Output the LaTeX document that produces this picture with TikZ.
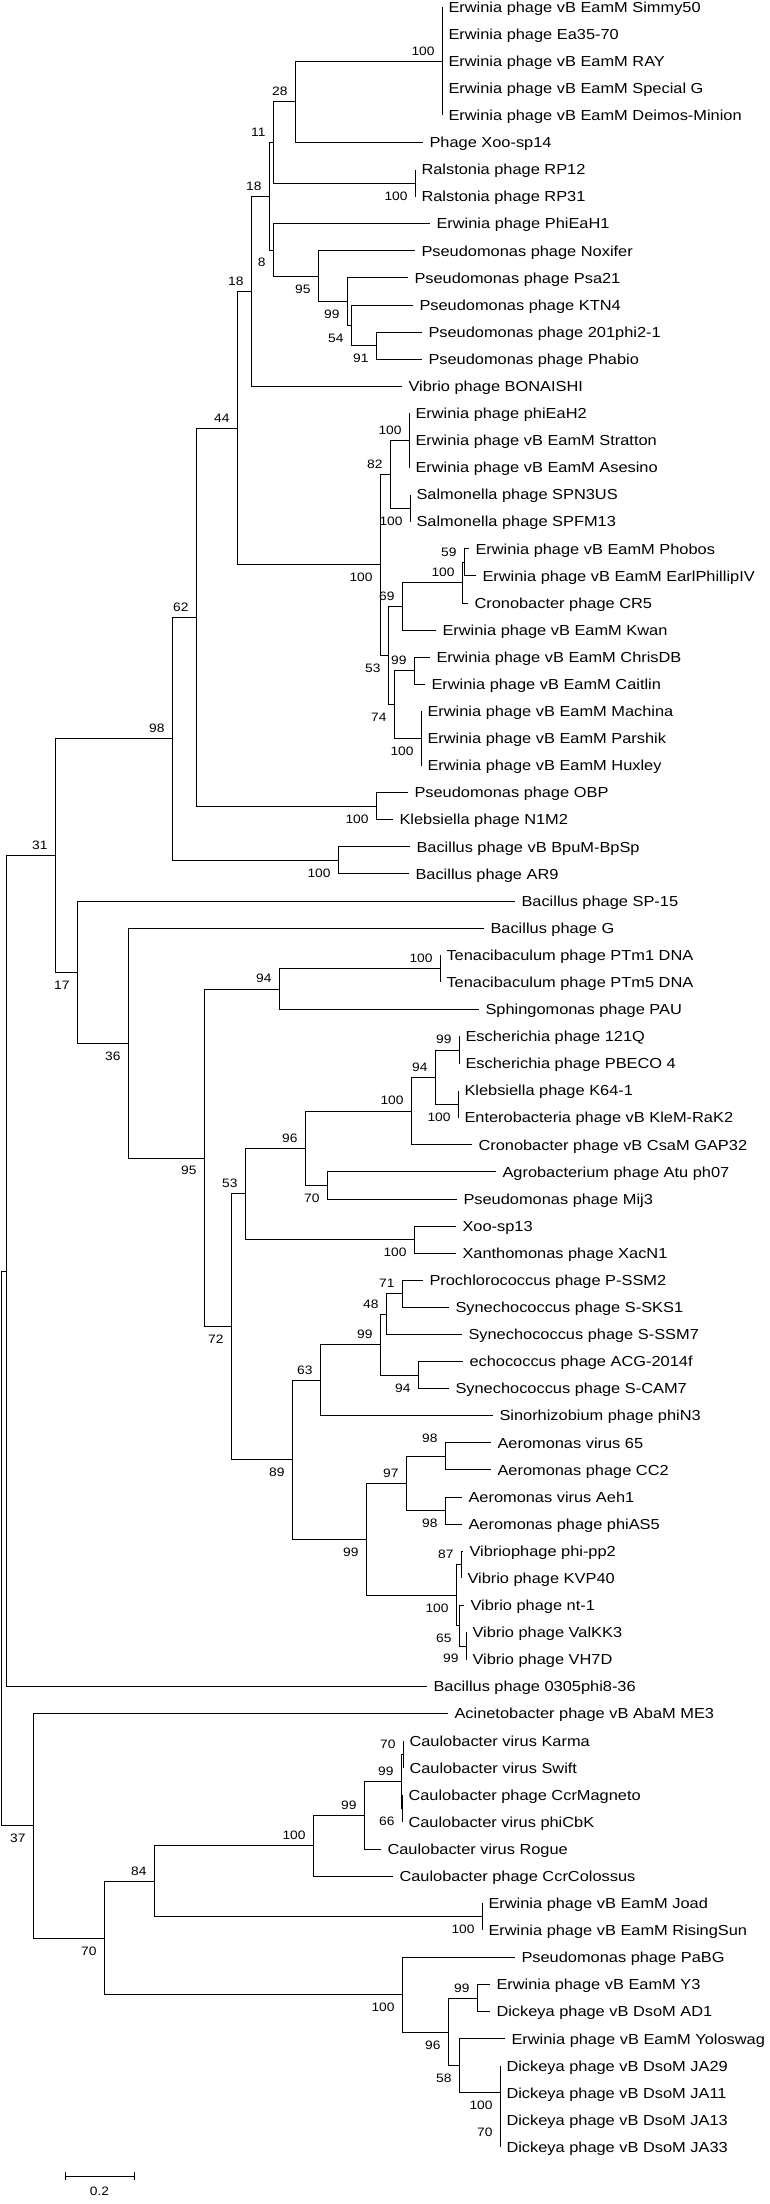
\documentclass[tikz,border=0pt]{standalone}
\usepackage{fontspec}
\newfontfamily\treefont{Liberation Sans}[FakeStretch=1.13]
\usetikzlibrary{positioning}

\begin{document}
\begin{tikzpicture}[x=1pt,y=-1pt,line width=1pt,
  leaf/.style={anchor=west,inner xsep=6pt,inner ysep=0pt,text height=10.4pt,text depth=0pt,font=\treefont\fontsize{14.5}{16}\selectfont},
  bs/.style={inner sep=0pt,text height=8.7pt,text depth=0pt,font=\treefont\fontsize{12.2}{14}\selectfont},
  bsup/.style={bs,above left=5.6pt and 7pt of #1},
  bsdn/.style={bs,below left=7.7pt and 7pt of #1}]
\path[use as bounding box,fill=white] (0,0) rectangle (770,2204);
% leaves
\node[leaf] (l1) at (442,7) {Erwinia phage vB EamM Simmy50};
\node[leaf] (l2) at (442,34.1) {Erwinia phage Ea35-70};
\node[leaf] (l3) at (442,61.2) {Erwinia phage vB EamM RAY};
\node[leaf] (l4) at (442,88.3) {Erwinia phage vB EamM Special G};
\node[leaf] (l5) at (442,115.4) {Erwinia phage vB EamM Deimos-Minion};
\node[leaf] (l6) at (423,142.5) {Phage Xoo-sp14};
\node[leaf] (l7) at (415,169.5) {Ralstonia phage RP12};
\node[leaf] (l8) at (415,196.6) {Ralstonia phage RP31};
\node[leaf] (l9) at (430,223.7) {Erwinia phage PhiEaH1};
\node[leaf] (l10) at (415,250.8) {Pseudomonas phage Noxifer};
\node[leaf] (l11) at (408,277.9) {Pseudomonas phage Psa21};
\node[leaf] (l12) at (413,305.0) {Pseudomonas phage KTN4};
\node[leaf] (l13) at (422,332.1) {Pseudomonas phage 201phi2-1};
\node[leaf] (l14) at (422,359.2) {Pseudomonas phage Phabio};
\node[leaf] (l15) at (402,386.3) {Vibrio phage BONAISHI};
\node[leaf] (l16) at (409,413.4) {Erwinia phage phiEaH2};
\node[leaf] (l17) at (409,440.4) {Erwinia phage vB EamM Stratton};
\node[leaf] (l18) at (409,467.5) {Erwinia phage vB EamM Asesino};
\node[leaf] (l19) at (410,494.6) {Salmonella phage SPN3US};
\node[leaf] (l20) at (410,521.7) {Salmonella phage SPFM13};
\node[leaf] (l21) at (469,548.8) {Erwinia phage vB EamM Phobos};
\node[leaf] (l22) at (476,575.9) {Erwinia phage vB EamM EarlPhillipIV};
\node[leaf] (l23) at (468,603.0) {Cronobacter phage CR5};
\node[leaf] (l24) at (436,630.1) {Erwinia phage vB EamM Kwan};
\node[leaf] (l25) at (430,657.2) {Erwinia phage vB EamM ChrisDB};
\node[leaf] (l26) at (425,684.3) {Erwinia phage vB EamM Caitlin};
\node[leaf] (l27) at (421,711.3) {Erwinia phage vB EamM Machina};
\node[leaf] (l28) at (421,738.4) {Erwinia phage vB EamM Parshik};
\node[leaf] (l29) at (421,765.5) {Erwinia phage vB EamM Huxley};
\node[leaf] (l30) at (408,792.6) {Pseudomonas phage OBP};
\node[leaf] (l31) at (393,819.7) {Klebsiella phage N1M2};
\node[leaf] (l32) at (410,846.8) {Bacillus phage vB BpuM-BpSp};
\node[leaf] (l33) at (409,873.9) {Bacillus phage AR9};
\node[leaf] (l34) at (515,901.0) {Bacillus phage SP-15};
\node[leaf] (l35) at (484,928.1) {Bacillus phage G};
\node[leaf] (l36) at (440,955.2) {Tenacibaculum phage PTm1 DNA};
\node[leaf] (l37) at (440,982.2) {Tenacibaculum phage PTm5 DNA};
\node[leaf] (l38) at (479,1009.3) {Sphingomonas phage PAU};
\node[leaf] (l39) at (459,1036.4) {Escherichia phage 121Q};
\node[leaf] (l40) at (459,1063.5) {Escherichia phage PBECO 4};
\node[leaf] (l41) at (458,1090.6) {Klebsiella phage K64-1};
\node[leaf] (l42) at (458,1117.7) {Enterobacteria phage vB KleM-RaK2};
\node[leaf] (l43) at (472,1144.8) {Cronobacter phage vB CsaM GAP32};
\node[leaf] (l44) at (496,1171.9) {Agrobacterium phage Atu ph07};
\node[leaf] (l45) at (457,1199.0) {Pseudomonas phage Mij3};
\node[leaf] (l46) at (456,1226.1) {Xoo-sp13};
\node[leaf] (l47) at (456,1253.1) {Xanthomonas phage XacN1};
\node[leaf] (l48) at (423,1280.2) {Prochlorococcus phage P-SSM2};
\node[leaf] (l49) at (449,1307.3) {Synechococcus phage S-SKS1};
\node[leaf] (l50) at (462,1334.4) {Synechococcus phage S-SSM7};
\node[leaf] (l51) at (463,1361.5) {echococcus phage ACG-2014f};
\node[leaf] (l52) at (449,1388.6) {Synechococcus phage S-CAM7};
\node[leaf] (l53) at (493,1415.7) {Sinorhizobium phage phiN3};
\node[leaf] (l54) at (491,1442.8) {Aeromonas virus 65};
\node[leaf] (l55) at (491,1469.9) {Aeromonas phage CC2};
\node[leaf] (l56) at (462,1497.0) {Aeromonas virus Aeh1};
\node[leaf] (l57) at (462,1524.0) {Aeromonas phage phiAS5};
\node[leaf] (l58) at (463,1551.1) {Vibriophage phi-pp2};
\node[leaf] (l59) at (461,1578.2) {Vibrio phage KVP40};
\node[leaf] (l60) at (464,1605.3) {Vibrio phage nt-1};
\node[leaf] (l61) at (466,1632.4) {Vibrio phage ValKK3};
\node[leaf] (l62) at (466,1659.5) {Vibrio phage VH7D};
\node[leaf] (l63) at (427,1686.6) {Bacillus phage 0305phi8-36};
\node[leaf] (l64) at (448,1713.7) {Acinetobacter phage vB AbaM ME3};
\node[leaf] (l65) at (403,1740.8) {Caulobacter virus Karma};
\node[leaf] (l66) at (403,1767.9) {Caulobacter virus Swift};
\node[leaf] (l67) at (402,1794.9) {Caulobacter phage CcrMagneto};
\node[leaf] (l68) at (402,1822.0) {Caulobacter virus phiCbK};
\node[leaf] (l69) at (381,1849.1) {Caulobacter virus Rogue};
\node[leaf] (l70) at (393,1876.2) {Caulobacter phage CcrColossus};
\node[leaf] (l71) at (482,1903.3) {Erwinia phage vB EamM Joad};
\node[leaf] (l72) at (482,1930.4) {Erwinia phage vB EamM RisingSun};
\node[leaf] (l73) at (515,1957.5) {Pseudomonas phage PaBG};
\node[leaf] (l74) at (490,1984.6) {Erwinia phage vB EamM Y3};
\node[leaf] (l75) at (490,2011.7) {Dickeya phage vB DsoM AD1};
\node[leaf] (l76) at (505,2038.8) {Erwinia phage vB EamM Yoloswag};
\node[leaf] (l77) at (500,2065.8) {Dickeya phage vB DsoM JA29};
\node[leaf] (l78) at (500,2092.9) {Dickeya phage vB DsoM JA11};
\node[leaf] (l79) at (500,2120.0) {Dickeya phage vB DsoM JA13};
\node[leaf] (l80) at (500,2147.1) {Dickeya phage vB DsoM JA33};
% inner nodes
\coordinate (nEa35) at (442,61.2);
\coordinate (nXoo14) at (295,101.9);
\coordinate (nRal) at (415,183.1);
\coordinate (nA11) at (273,142.5);
\coordinate (nPhab) at (376,345.6);
\coordinate (nKTN) at (351,325.3);
\coordinate (nPsa) at (347,301.6);
\coordinate (nNox) at (318,276.2);
\coordinate (nEaH1) at (273,250.0);
\coordinate (nA18) at (269,196.3);
\coordinate (nBon) at (251,291.3);
\coordinate (nStrat) at (409,440.5);
\coordinate (nSalm) at (410,508.2);
\coordinate (nSPN) at (390,474.3);
\coordinate (nPhob) at (464,562.4);
\coordinate (nCR5) at (462,582.7);
\coordinate (nKwan) at (402,606.4);
\coordinate (nChris) at (414,670.8);
\coordinate (nHux) at (421,738.4);
\coordinate (nCait) at (394,704.6);
\coordinate (nA53) at (388,655.5);
\coordinate (nJumbo) at (380,564.9);
\coordinate (nA44) at (237,428.1);
\coordinate (nOBP) at (376,806.2);
\coordinate (nA62) at (196,617.2);
\coordinate (nBpSp) at (338,860.4);
\coordinate (nA98) at (172,738.8);
\coordinate (nPTm) at (440,968.7);
\coordinate (nPAU) at (279,989.0);
\coordinate (nEsch) at (459,1050.0);
\coordinate (nRaK) at (458,1104.2);
\coordinate (nKleb) at (435,1077.1);
\coordinate (nGAP) at (411,1111.0);
\coordinate (nAgro) at (327,1185.5);
\coordinate (nB96) at (305,1148.2);
\coordinate (nXac) at (414,1239.6);
\coordinate (nB53) at (245,1193.9);
\coordinate (nSSM2) at (402,1293.8);
\coordinate (nSKS) at (386,1314.1);
\coordinate (nCAM) at (418,1375.1);
\coordinate (nSyn) at (380,1344.6);
\coordinate (nPhiN3) at (320,1380.2);
\coordinate (nAer65) at (445,1456.4);
\coordinate (nAeh1) at (445,1510.5);
\coordinate (nAero) at (406,1483.5);
\coordinate (nKVP) at (461,1564.7);
\coordinate (nVH7D) at (466,1646.0);
\coordinate (nNt1) at (459,1625.7);
\coordinate (nVib) at (456,1595.2);
\coordinate (nB99) at (366,1539.4);
\coordinate (nB89) at (292,1459.8);
\coordinate (nB72) at (231,1326.9);
\coordinate (nB95) at (204,1158.0);
\coordinate (nB36) at (128,1043.1);
\coordinate (nSP15) at (77,972.1);
\coordinate (nTop) at (55,855.5);
\coordinate (nUp) at (6,1271.0);
\coordinate (nKarma) at (403,1754.4);
\coordinate (nCbK) at (402,1808.5);
\coordinate (nCaul) at (401,1781.4);
\coordinate (nRogue) at (364,1815.3);
\coordinate (nColos) at (313,1845.7);
\coordinate (nJoad) at (482,1916.9);
\coordinate (nC84) at (154,1881.3);
\coordinate (nY3) at (477,1998.2);
\coordinate (nJA) at (500,2120.0);
\coordinate (nJA29) at (500,2092.9);
\coordinate (nYolo) at (459,2065.9);
\coordinate (nDick) at (448,2032.1);
\coordinate (nPaBG) at (402,1994.8);
\coordinate (nC70) at (104,1938.1);
\coordinate (nLow) at (33,1825.9);
\coordinate (nRoot) at (1.5,1548.5);
% branches
\draw (nEa35) |- (l1.west) (nEa35) |- (l5.west);
\draw (nXoo14) |- (nEa35) (nXoo14) |- (l6.west);
\draw (nRal) |- (l7.west) (nRal) |- (l8.west);
\draw (nA11) |- (nXoo14) (nA11) |- (nRal);
\draw (nPhab) |- (l13.west) (nPhab) |- (l14.west);
\draw (nKTN) |- (l12.west) (nKTN) |- (nPhab);
\draw (nPsa) |- (l11.west) (nPsa) |- (nKTN);
\draw (nNox) |- (l10.west) (nNox) |- (nPsa);
\draw (nEaH1) |- (l9.west) (nEaH1) |- (nNox);
\draw (nA18) |- (nA11) (nA18) |- (nEaH1);
\draw (nBon) |- (nA18) (nBon) |- (l15.west);
\draw (nStrat) |- (l16.west) (nStrat) |- (l18.west);
\draw (nSalm) |- (l19.west) (nSalm) |- (l20.west);
\draw (nSPN) |- (nStrat) (nSPN) |- (nSalm);
\draw (nPhob) |- (l21.west) (nPhob) |- (l22.west);
\draw (nCR5) |- (nPhob) (nCR5) |- (l23.west);
\draw (nKwan) |- (nCR5) (nKwan) |- (l24.west);
\draw (nChris) |- (l25.west) (nChris) |- (l26.west);
\draw (nHux) |- (l27.west) (nHux) |- (l29.west);
\draw (nCait) |- (nChris) (nCait) |- (nHux);
\draw (nA53) |- (nKwan) (nA53) |- (nCait);
\draw (nJumbo) |- (nSPN) (nJumbo) |- (nA53);
\draw (nA44) |- (nBon) (nA44) |- (nJumbo);
\draw (nOBP) |- (l30.west) (nOBP) |- (l31.west);
\draw (nA62) |- (nA44) (nA62) |- (nOBP);
\draw (nBpSp) |- (l32.west) (nBpSp) |- (l33.west);
\draw (nA98) |- (nA62) (nA98) |- (nBpSp);
\draw (nPTm) |- (l36.west) (nPTm) |- (l37.west);
\draw (nPAU) |- (nPTm) (nPAU) |- (l38.west);
\draw (nEsch) |- (l39.west) (nEsch) |- (l40.west);
\draw (nRaK) |- (l41.west) (nRaK) |- (l42.west);
\draw (nKleb) |- (nEsch) (nKleb) |- (nRaK);
\draw (nGAP) |- (nKleb) (nGAP) |- (l43.west);
\draw (nAgro) |- (l44.west) (nAgro) |- (l45.west);
\draw (nB96) |- (nGAP) (nB96) |- (nAgro);
\draw (nXac) |- (l46.west) (nXac) |- (l47.west);
\draw (nB53) |- (nB96) (nB53) |- (nXac);
\draw (nSSM2) |- (l48.west) (nSSM2) |- (l49.west);
\draw (nSKS) |- (nSSM2) (nSKS) |- (l50.west);
\draw (nCAM) |- (l51.west) (nCAM) |- (l52.west);
\draw (nSyn) |- (nSKS) (nSyn) |- (nCAM);
\draw (nPhiN3) |- (nSyn) (nPhiN3) |- (l53.west);
\draw (nAer65) |- (l54.west) (nAer65) |- (l55.west);
\draw (nAeh1) |- (l56.west) (nAeh1) |- (l57.west);
\draw (nAero) |- (nAer65) (nAero) |- (nAeh1);
\draw (nKVP) |- (l58.west) (nKVP) |- (l59.west);
\draw (nVH7D) |- (l61.west) (nVH7D) |- (l62.west);
\draw (nNt1) |- (l60.west) (nNt1) |- (nVH7D);
\draw (nVib) |- (nKVP) (nVib) |- (nNt1);
\draw (nB99) |- (nAero) (nB99) |- (nVib);
\draw (nB89) |- (nPhiN3) (nB89) |- (nB99);
\draw (nB72) |- (nB53) (nB72) |- (nB89);
\draw (nB95) |- (nPAU) (nB95) |- (nB72);
\draw (nB36) |- (l35.west) (nB36) |- (nB95);
\draw (nSP15) |- (l34.west) (nSP15) |- (nB36);
\draw (nTop) |- (nA98) (nTop) |- (nSP15);
\draw (nUp) |- (nTop) (nUp) |- (l63.west);
\draw (nKarma) |- (l65.west) (nKarma) |- (l66.west);
\draw (nCbK) |- (l67.west) (nCbK) |- (l68.west);
\draw (nCaul) |- (nKarma) (nCaul) |- (nCbK);
\draw (nRogue) |- (nCaul) (nRogue) |- (l69.west);
\draw (nColos) |- (nRogue) (nColos) |- (l70.west);
\draw (nJoad) |- (l71.west) (nJoad) |- (l72.west);
\draw (nC84) |- (nColos) (nC84) |- (nJoad);
\draw (nY3) |- (l74.west) (nY3) |- (l75.west);
\draw (nJA) |- (l78.west) (nJA) |- (l80.west);
\draw (nJA29) |- (l77.west) (nJA29) |- (nJA);
\draw (nYolo) |- (l76.west) (nYolo) |- (nJA29);
\draw (nDick) |- (nY3) (nDick) |- (nYolo);
\draw (nPaBG) |- (l73.west) (nPaBG) |- (nDick);
\draw (nC70) |- (nC84) (nC70) |- (nPaBG);
\draw (nLow) |- (l64.west) (nLow) |- (nC70);
\draw (nRoot) |- (nUp) (nRoot) |- (nLow);
% bootstrap values
\node[bsup=nEa35] (bEa35) {100};
\node[bsup=nXoo14] (bXoo14) {28};
\node[bsup=nA11] (bA11) {11};
\node[bsdn=nRal] (bRal) {100};
\node[bsup=nA18] (bA18) {18};
\node[bsdn=nEaH1] (bEaH1) {8};
\node[bsdn=nNox] (bNox) {95};
\node[bsdn=nPsa] (bPsa) {99};
\node[bsdn=nKTN] (bKTN) {54};
\node[bsdn=nPhab] (bPhab) {91};
\node[bsup=nBon] (bBon) {18};
\node[bsup=nA44] (bA44) {44};
\node[bsup=nStrat] (bStrat) {100};
\node[bsup=nSPN] (bSPN) {82};
\node[bsdn=nSalm] (bSalm) {100};
\node[bsdn=nJumbo] (bJumbo) {100};
\node[bsup=nPhob] (bPhob) {59};
\node[bsup=nCR5] (bCR5) {100};
\node[bsup=nKwan] (bKwan) {69};
\node[bsdn=nA53] (bA53) {53};
\node[bsup=nChris] (bChris) {99};
\node[bsdn=nCait] (bCait) {74};
\node[bsdn=nHux] (bHux) {100};
\node[bsup=nA62] (bA62) {62};
\node[bsdn=nOBP] (bOBP) {100};
\node[bsup=nA98] (bA98) {98};
\node[bsdn=nBpSp] (bBpSp) {100};
\node[bsup=nTop] (bTop) {31};
\node[bsdn=nSP15] (bSP15) {17};
\node[bsdn=nB36] (bB36) {36};
\node[bsdn=nB95] (bB95) {95};
\node[bsup=nPAU] (bPAU) {94};
\node[bsup=nPTm] (bPTm) {100};
\node[bsdn=nB72] (bB72) {72};
\node[bsup=nB53] (bB53) {53};
\node[bsdn=nXac] (bXac) {100};
\node[bsup=nB96] (bB96) {96};
\node[bsup=nGAP] (bGAP) {100};
\node[bsup=nKleb] (bKleb) {94};
\node[bsup=nEsch] (bEsch) {99};
\node[bsdn=nRaK] (bRaK) {100};
\node[bsdn=nAgro] (bAgro) {70};
\node[bsdn=nB89] (bB89) {89};
\node[bsup=nPhiN3] (bPhiN3) {63};
\node[bsup=nSyn] (bSyn) {99};
\node[bsup=nSKS] (bSKS) {48};
\node[bsup=nSSM2] (bSSM2) {71};
\node[bsdn=nCAM] (bCAM) {94};
\node[bsdn=nB99] (bB99) {99};
\node[bsup=nAero] (bAero) {97};
\node[bs,above left=13.6pt and 7pt of nAer65] (bAer65) {98};
\node[bsdn=nAeh1] (bAeh1) {98};
\node[bsup=nKVP] (bKVP) {87};
\node[bsdn=nVib] (bVib) {100};
\node[bsdn=nNt1] (bNt1) {65};
\node[bsdn=nVH7D] (bVH7D) {99};
\node[bsdn=nLow] (bLow) {37};
\node[bsdn=nC70] (bC70) {70};
\node[bsup=nC84] (bC84) {84};
\node[bsup=nColos] (bColos) {100};
\node[bsup=nRogue] (bRogue) {99};
\node[bsup=nCaul] (bCaul) {99};
\node[bsup=nKarma] (bKarma) {70};
\node[bsdn=nCbK] (bCbK) {66};
\node[bsdn=nJoad] (bJoad) {100};
\node[bsdn=nPaBG] (bPaBG) {100};
\node[bsup=nY3] (bY3) {99};
\node[bsdn=nDick] (bDick) {96};
\node[bsdn=nYolo] (bYolo) {58};
\node[bsdn=nJA29] (bJA29) {100};
\node[bsdn=nJA] (bJA) {70};
% scale bar
\coordinate (sbL) at (65,2176);
\coordinate (sbR) at (134,2176);
\draw (sbL) -- (sbR);
\draw ([yshift=4pt]sbL) -- ([yshift=-4pt]sbL);
\draw ([yshift=4pt]sbR) -- ([yshift=-4pt]sbR);
\node[bs] (sbT) at (99.5,2191) {0.2};
\end{tikzpicture}
\end{document}
